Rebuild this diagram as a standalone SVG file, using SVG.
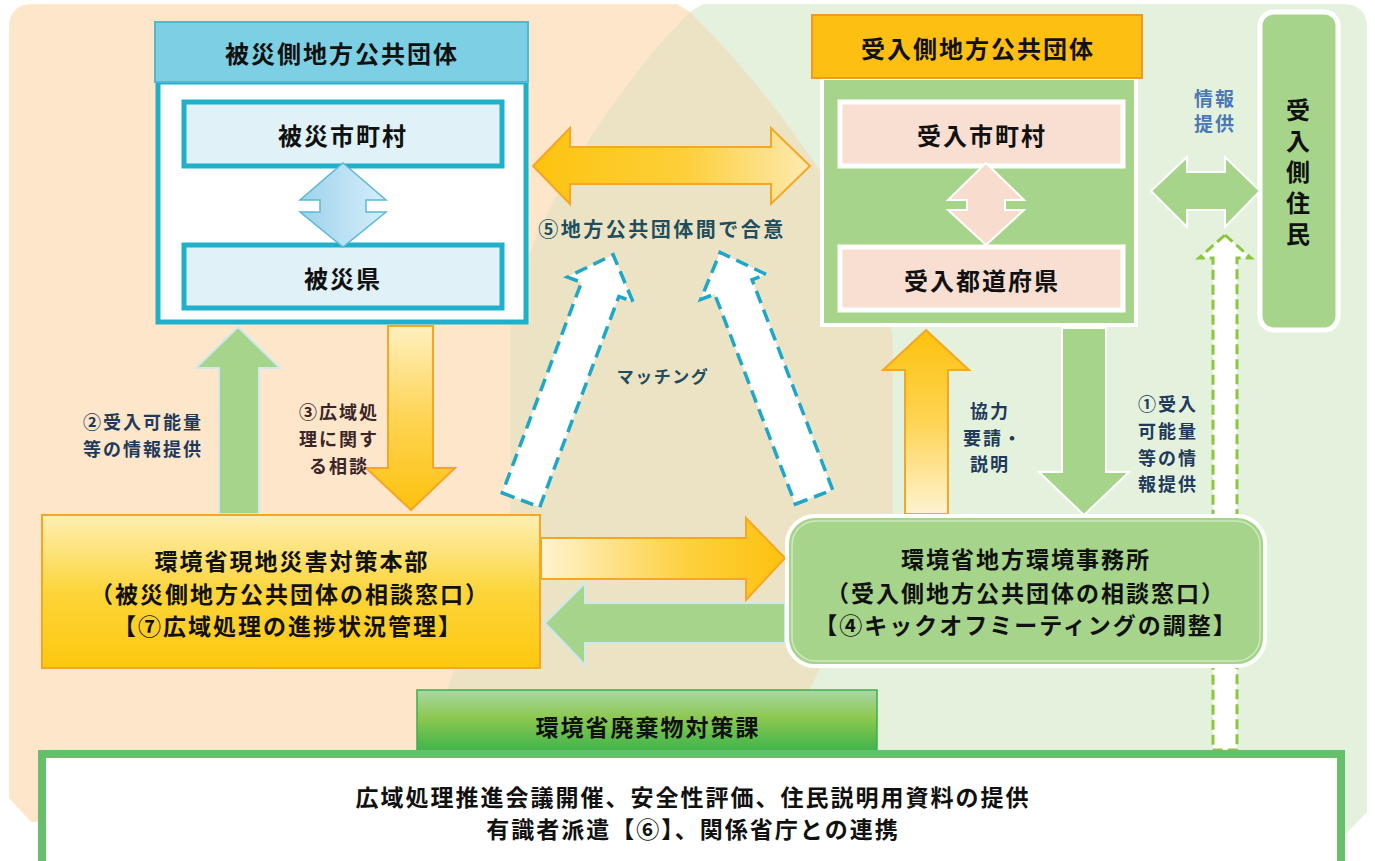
<svg xmlns="http://www.w3.org/2000/svg" width="1375" height="861" viewBox="0 0 1375 861">
<style>
.t{font-family:"Noto Sans CJK JP","Noto Sans CJK SC",sans-serif;font-weight:700;text-anchor:middle;dominant-baseline:central;fill:#111}
.h{font-size:24px;letter-spacing:2px}
.m{font-size:23px;letter-spacing:2px}
.lb{font-size:18px;letter-spacing:2px;fill:#1f3a5c}
.lm{font-size:18px;letter-spacing:2px;fill:#3a2528}
.lt{fill:#1f4e5f}
.dash-b{fill:#fff;stroke:#1ea7c9;stroke-width:3.5;stroke-dasharray:13 7}
.gr{fill:#a6d48b}
</style>
<defs>
<linearGradient id="gBlue" x1="0" y1="0" x2="1" y2="0"><stop offset="0" stop-color="#9fd2ec"/><stop offset="1" stop-color="#d4eefb"/></linearGradient>
<linearGradient id="gOrH" x1="0" y1="0" x2="1" y2="0"><stop offset="0" stop-color="#fdc30f"/><stop offset="0.55" stop-color="#fdcf3a"/><stop offset="1" stop-color="#fdeab0"/></linearGradient>
<linearGradient id="gOrR" x1="0" y1="0" x2="1" y2="0"><stop offset="0" stop-color="#fef3d2"/><stop offset="0.6" stop-color="#fdd03e"/><stop offset="1" stop-color="#fdc20e"/></linearGradient>
<linearGradient id="gOrDown" x1="0" y1="0" x2="0" y2="1"><stop offset="0" stop-color="#fff0bf"/><stop offset="0.5" stop-color="#fed453"/><stop offset="1" stop-color="#fdc20e"/></linearGradient>
<linearGradient id="gOrUp" x1="0" y1="0" x2="0" y2="1"><stop offset="0" stop-color="#fdc20e"/><stop offset="0.5" stop-color="#fed453"/><stop offset="1" stop-color="#fef3d2"/></linearGradient>
<linearGradient id="gYel" x1="0" y1="0" x2="0" y2="1"><stop offset="0" stop-color="#fdefb4"/><stop offset="0.5" stop-color="#fdd53a"/><stop offset="1" stop-color="#fdc80e"/></linearGradient>
<linearGradient id="gGrn" x1="0" y1="0" x2="0" y2="1"><stop offset="0" stop-color="#a9d8a6"/><stop offset="0.45" stop-color="#8cc850"/><stop offset="1" stop-color="#3cb34b"/></linearGradient>
</defs>

<g id="background">
<path d="M9,28 Q9,4 33,4 L677,4 L690,12 C760,80 880,230 893,340 L893,520 L780,750 L40,750 L40,822 L31,822 L9,798 Z" fill="#fde6ca"/>
<path d="M690,12 L703,4 L1343,4 Q1367,4 1367,28 L1367,812 L1345,835 L1345,750 L440,750 L447,690 L510,520 L510,330 C520,230 620,80 690,12 Z" fill="#e4f2dd"/>
<path d="M690,12 C760,80 880,230 893,340 L893,520 L780,750 L440,750 L447,690 L510,520 L510,330 C520,230 620,80 690,12 Z" fill="#ece3c4"/>
</g>

<g id="node-hisai">
<rect x="158" y="82" width="368" height="240" fill="#fff" stroke="#1fb0cc" stroke-width="5"/>
<rect x="155" y="22" width="373" height="60" fill="#7dd0e3" stroke="#4fb8d3" stroke-width="2"/>
<text class="t h" x="342" y="52">被災側地方公共団体</text>
</g>
<g id="node-hisai-shichoson">
<rect x="184" y="102" width="318" height="64" fill="#e0f2f8" stroke="#1fb0cc" stroke-width="5"/>
<text class="t h" x="343" y="134">被災市町村</text>
</g>
<g id="node-hisai-ken">
<rect x="184" y="245" width="318" height="63" fill="#e0f2f8" stroke="#1fb0cc" stroke-width="5"/>
<text class="t h" x="343" y="277">被災県</text>
</g>

<g id="node-ukeire">
<rect x="822" y="78" width="314" height="247" class="gr" stroke="#fff" stroke-width="4"/>
<rect x="812" y="15" width="330" height="63" fill="#fdbf12" stroke="#f39a1e" stroke-width="2"/>
<text class="t h" x="978" y="47">受入側地方公共団体</text>
</g>
<g id="node-ukeire-shichoson">
<rect x="840" y="102" width="283" height="64" fill="#f8dfd2" stroke="#fff" stroke-width="5"/>
<text class="t h" x="982" y="134">受入市町村</text>
</g>
<g id="node-ukeire-ken">
<rect x="840" y="247" width="283" height="63" fill="#f8dfd2" stroke="#fff" stroke-width="5"/>
<text class="t h" x="982" y="279">受入都道府県</text>
</g>

<g id="node-jumin">
<rect x="1260" y="12" width="78" height="318" rx="14" class="gr" stroke="#fff" stroke-width="5"/>
<text class="t" x="1298" y="175" writing-mode="vertical-rl" style="font-size:24px;letter-spacing:7px">受入側住民</text>
</g>

<g id="connectors">
<polygon points="343,163 386,200 366,200 366,212 386,212 343,247 300,212 320,212 320,200 300,200" fill="url(#gBlue)" stroke="#5bb8d6" stroke-width="1.5"/>
<polygon points="986,163 1024,200 1005,200 1005,210 1024,210 986,245 948,210 967,210 967,200 948,200" fill="#f8dccd" stroke="#fff" stroke-width="2"/>
<polygon points="533,166 570,128 570,147 771,147 771,128 810,166 771,204 771,184 570,184 570,204" fill="url(#gOrH)" stroke="#f5a623" stroke-width="2"/>
<polygon points="1151,191 1187,157 1187,172 1225,172 1225,157 1260,191 1225,227 1225,210 1187,210 1187,227" class="gr" stroke="#fff" stroke-width="2"/>
<polygon points="1225,235 1251,258 1237,258 1237,750 1213,750 1213,258 1199,258" fill="#fff" stroke="#8cc63f" stroke-width="3" stroke-dasharray="10 5"/>
<polygon points="-20,0 20,0 20,-225 35,-225 0,-262 -35,-225 -20,-225" class="dash-b" transform="translate(521,500) rotate(20.6)"/>
<polygon points="-20,0 20,0 20,-225 35,-225 0,-262 -35,-225 -20,-225" class="dash-b" transform="translate(814,497) rotate(-21)"/>
<polygon points="238,327 280,368 259,368 259,514 219,514 219,368 196,368" class="gr" stroke="#cfe9ef" stroke-width="2"/>
<polygon points="388,326 433,326 433,468 455,468 411,510 366,468 388,468" fill="url(#gOrDown)" stroke="#f5a623" stroke-width="2"/>
<polygon points="926,330 969,370 948,370 948,514 905,514 905,370 883,370" fill="url(#gOrUp)" stroke="#f5a623" stroke-width="2"/>
<polygon points="1062,328 1106,328 1106,472 1129,472 1084,515 1039,472 1062,472" class="gr" stroke="#fff" stroke-width="2"/>
<polygon points="541,538 746,538 746,518 785,558 746,600 746,579 541,579" fill="url(#gOrR)" stroke="#f5a623" stroke-width="2"/>
<polygon points="545,623 585,583 585,603 785,603 785,643 585,643 585,665" class="gr" stroke="#cde8f0" stroke-width="2"/>
</g>

<g id="node-honbu">
<rect x="42" y="515" width="498" height="153" fill="url(#gYel)" stroke="#f5a623" stroke-width="2"/>
<text class="t m" x="292" y="560">環境省現地災害対策本部</text>
<text class="t m" x="290" y="593">（被災側地方公共団体の相談窓口）</text>
<text class="t m" x="288" y="625">【⑦広域処理の進捗状況管理】</text>
</g>

<g id="node-jimusho">
<rect x="787" y="516" width="478" height="150" rx="28" class="gr" stroke="#fff" stroke-width="4"/>
<rect x="792" y="521" width="468" height="140" rx="24" fill="none" stroke="#cfe8c0" stroke-width="1.5"/>
<text class="t m" x="1026" y="558">環境省地方環境事務所</text>
<text class="t m" x="1026" y="592">（受入側地方公共団体の相談窓口）</text>
<text class="t m" x="1026" y="624">【④キックオフミーティングの調整】</text>
</g>

<g id="node-haikibutsu">
<rect x="417" y="690" width="460" height="62" fill="url(#gGrn)" stroke="#3fae49" stroke-width="1.5"/>
<text class="t m" x="648" y="726">環境省廃棄物対策課</text>
</g>

<g id="labels">
<text class="t lb" x="143" y="421">②受入可能量</text>
<text class="t lb" x="143" y="448">等の情報提供</text>
<text class="t lm" x="339" y="411">③広域処</text>
<text class="t lm" x="339" y="438">理に関す</text>
<text class="t lm" x="339" y="465">る相談</text>
<text class="t lt" x="662" y="228" style="font-size:20px;letter-spacing:2.5px">⑤地方公共団体間で合意</text>
<text class="t lt" x="663" y="375" style="font-size:17px;letter-spacing:1.5px">マッチング</text>
<text class="t lb" x="990" y="410">協力</text>
<text class="t lb" x="993" y="437">要請・</text>
<text class="t lb" x="990" y="463">説明</text>
<text class="t lb" x="1168" y="403">①受入</text>
<text class="t lb" x="1168" y="430">可能量</text>
<text class="t lb" x="1168" y="457">等の情</text>
<text class="t lb" x="1168" y="483">報提供</text>
<text class="t" x="1215" y="97" style="font-size:19px;letter-spacing:2px;fill:#4a78b8">情報</text>
<text class="t" x="1215" y="122" style="font-size:19px;letter-spacing:2px;fill:#4a78b8">提供</text>
</g>

<g id="node-bottom">
<rect x="42" y="754" width="1299" height="120" fill="#fff" stroke="#66bf6a" stroke-width="8"/>
<text class="t m" x="693" y="796">広域処理推進会議開催、安全性評価、住民説明用資料の提供</text>
<text class="t m" x="693" y="828">有識者派遣【⑥】、関係省庁との連携</text>
</g>
</svg>
